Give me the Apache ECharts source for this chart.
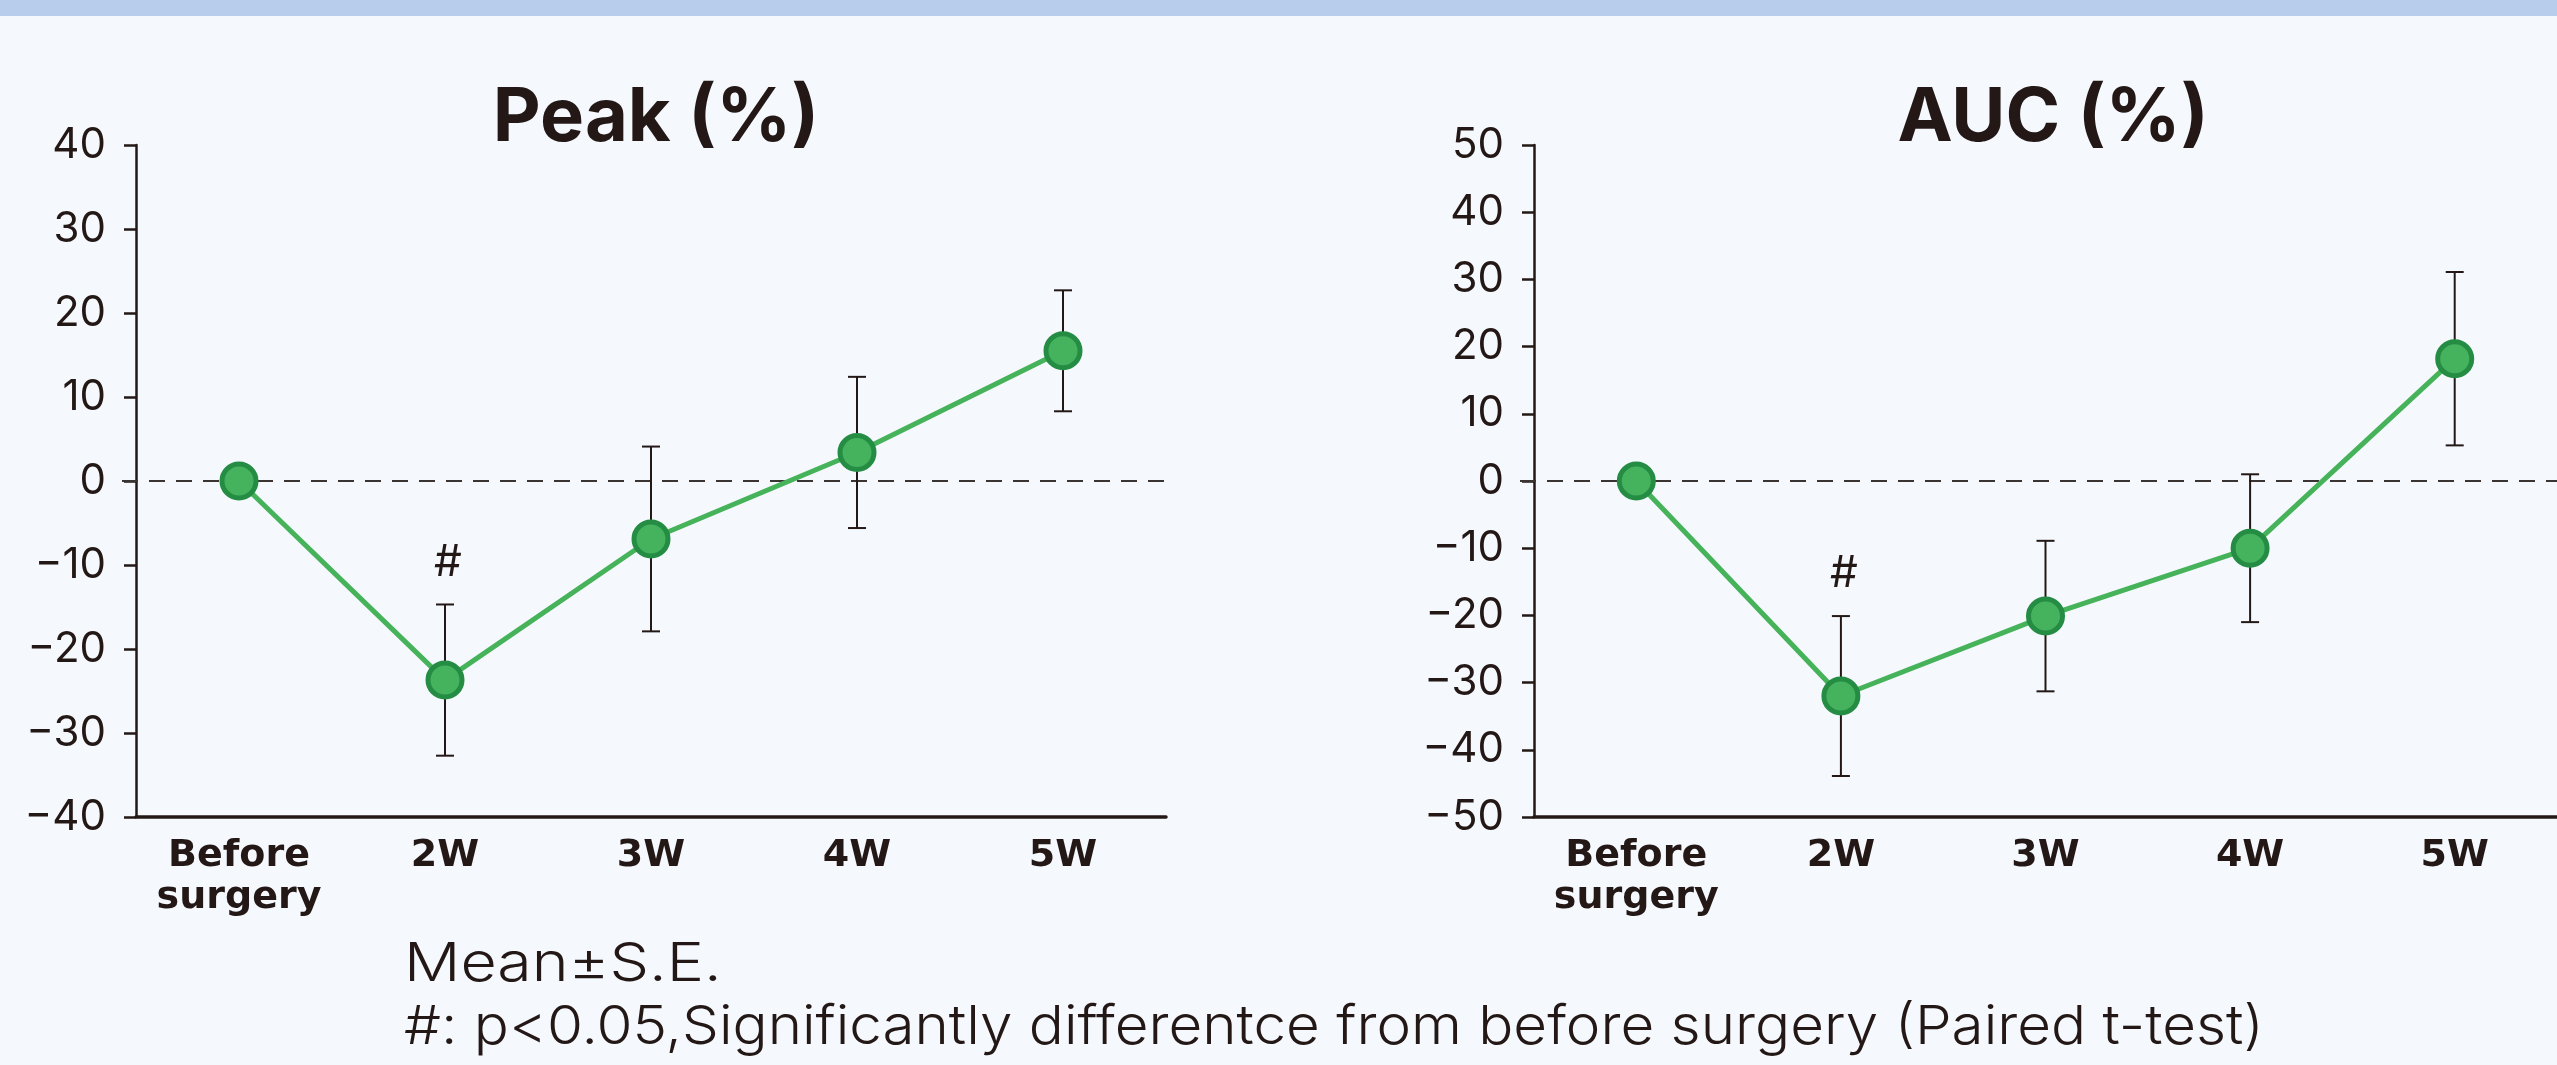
<!DOCTYPE html>
<html>
<head>
<meta charset="utf-8">
<script src="https://cdn.jsdelivr.net/npm/echarts@6/dist/echarts.min.js"></script>
<style>
html,body{margin:0;padding:0;background:#f5f9fe;}
#chart{width:2557px;height:1065px;}
</style>
</head>
<body>
<div id="chart"></div>
<script>
// ---- data ----
var categories = ['Before\nsurgery', '2W', '3W', '4W', '5W'];
var peakMean = [0, -23.7, -6.9, 3.4, 15.5];
var peakSE   = [null, 9.0, 11.0, 9.0, 7.2];
var aucMean  = [0, -32.0, -20.1, -10.0, 18.2];
var aucSE    = [null, 11.9, 11.2, 11.0, 12.9];
var sigMarks = ['', '#', '', '', ''];
var titles = ['Peak (%)', 'AUC (%)'];
var peakAxis = {min: -40, max: 40, interval: 10};
var aucAxis  = {min: -50, max: 50, interval: 10};
var refLine = [0];
var noteLines = ['Mean\u00b1S.E.', '#: p<0.05,Significantly differentce from before surgery (Paired t-test)'];

var INK = '#231815';
var FONT = 'Inter, "Noto Sans", sans-serif';
var XFONT = '"DejaVu Sans", Inter, sans-serif';

var chart = echarts.init(document.getElementById('chart'), null, {renderer: 'canvas'});

function errData(mean, se) {
  var out = [];
  for (var i = 0; i < mean.length; i++) {
    if (se[i] != null) out.push([i, mean[i] - se[i], mean[i] + se[i]]);
  }
  return out;
}
function sigData(mean, se) {
  var out = [];
  for (var i = 0; i < mean.length; i++) {
    if (sigMarks[i]) out.push([i, mean[i] + (se[i] || 0)]);
  }
  return out;
}
function errRender(params, api) {
  var x = api.value(0);
  var lo = api.coord([x, api.value(1)]);
  var hi = api.coord([x, api.value(2)]);
  var hw = 9;
  var st = {stroke: INK, lineWidth: 2};
  return {type: 'group', children: [
    {type: 'line', shape: {x1: lo[0], y1: lo[1], x2: hi[0], y2: hi[1]}, style: st},
    {type: 'line', shape: {x1: lo[0]-hw, y1: lo[1], x2: lo[0]+hw, y2: lo[1]}, style: st},
    {type: 'line', shape: {x1: hi[0]-hw, y1: hi[1], x2: hi[0]+hw, y2: hi[1]}, style: st}
  ]};
}
function sigRender(params, api) {
  var p = api.coord([api.value(0), api.value(1)]);
  return {type: 'text', x: p[0] + 3, y: p[1] - 42, style: {
    text: sigMarks[api.value(0)], fill: INK, font: '400 44px ' + FONT,
    textAlign: 'center', textVerticalAlign: 'middle'}};
}
function refRender(params, api) {
  var cs = params.coordSys;
  var p = api.coord([0, api.value(0)]);
  return {type: 'line', shape: {x1: cs.x - 14, y1: p[1], x2: cs.x + cs.width, y2: p[1]},
    style: {stroke: '#3a3433', lineWidth: 2, lineDash: [16, 11]}};
}
function fmt(v) { return String(v).replace('-', '\u2212'); }

function xAxisCfg(idx) {
  return {type: 'category', gridIndex: idx, data: categories, boundaryGap: true,
    axisLine: {onZero: false, lineStyle: {color: INK, width: 3.5}},
    axisTick: {length: 12, lineStyle: {color: INK, width: 2.5}},
    axisLabel: {color: INK, fontFamily: XFONT, fontWeight: 'bold', fontSize: 38, lineHeight: 42, margin: 18, interval: 0},
    splitLine: {show: false}};
}
function yAxisCfg(idx, ax) {
  return {type: 'value', gridIndex: idx, min: ax.min, max: ax.max, interval: ax.interval,
    axisLine: {show: true, lineStyle: {color: INK, width: 2.5}},
    axisTick: {show: true, length: 12, lineStyle: {color: INK, width: 2.5}},
    axisLabel: {color: INK, fontFamily: FONT, fontSize: 42, margin: 30, formatter: fmt},
    splitLine: {show: false}};
}
function lineSeries(idx, mean) {
  return {type: 'line', xAxisIndex: idx, yAxisIndex: idx, data: mean, z: 5,
    symbol: 'circle', symbolSize: 34,
    lineStyle: {color: '#46b35a', width: 5},
    itemStyle: {color: '#45b35d', borderColor: '#258c44', borderWidth: 5},
    animation: false};
}

chart.setOption({
  backgroundColor: '#f5f9fe',
  animation: false,
  title: [
    {text: titles[0], left: 651, top: 74, textAlign: 'center',
     textStyle: {fontFamily: FONT, fontWeight: 'bold', fontSize: 74, lineHeight: 80, color: INK}},
    {text: titles[1], left: 2048, top: 74, textAlign: 'center',
     textStyle: {fontFamily: FONT, fontWeight: 'bold', fontSize: 74, lineHeight: 80, color: INK}}
  ],
  grid: [
    {left: 136, top: 145, width: 1030, height: 672},
    {left: 1534, top: 145, width: 1030, height: 672}
  ],
  xAxis: [xAxisCfg(0), xAxisCfg(1)],
  yAxis: [yAxisCfg(0, peakAxis), yAxisCfg(1, aucAxis)],
  graphic: [
    {type: 'rect', left: 0, top: 0, shape: {width: 2557, height: 16}, style: {fill: '#b8cdeb'}},
    {type: 'text', x: 404, y: 938, scaleX: 1.16, style: {text: noteLines[0], fill: INK, font: '300 54px ' + FONT, textVerticalAlign: 'top'}},
    {type: 'text', x: 404, y: 1001, scaleX: 1.08, style: {text: noteLines[1], fill: INK, font: '300 54px ' + FONT, textVerticalAlign: 'top'}}
  ],
  series: [
    {type: 'custom', xAxisIndex: 0, yAxisIndex: 0, data: refLine, renderItem: refRender, z: 1},
    {type: 'custom', xAxisIndex: 0, yAxisIndex: 0, data: errData(peakMean, peakSE), renderItem: errRender, z: 3},
    lineSeries(0, peakMean),
    {type: 'custom', xAxisIndex: 0, yAxisIndex: 0, data: sigData(peakMean, peakSE), renderItem: sigRender, z: 6},
    {type: 'custom', xAxisIndex: 1, yAxisIndex: 1, data: refLine, renderItem: refRender, z: 1},
    {type: 'custom', xAxisIndex: 1, yAxisIndex: 1, data: errData(aucMean, aucSE), renderItem: errRender, z: 3},
    lineSeries(1, aucMean),
    {type: 'custom', xAxisIndex: 1, yAxisIndex: 1, data: sigData(aucMean, aucSE), renderItem: sigRender, z: 6}
  ]
});
</script>
</body>
</html>
